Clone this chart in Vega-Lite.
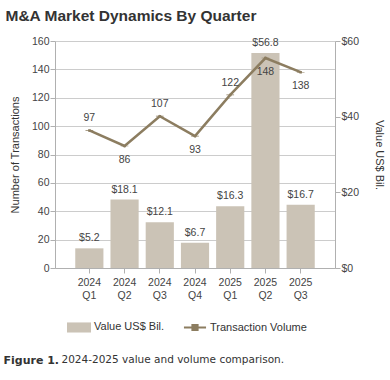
{
  "$schema": "https://vega.github.io/schema/vega-lite/v6.json",
  "padding": {"left": 3, "top": 8, "right": 7, "bottom": 5},
  "background": "white",
  "title": {"text": "M&A Market Dynamics By Quarter", "anchor": "start", "fontSize": 15.5, "font": "Liberation Sans", "fontWeight": "bold", "color": "#333333", "offset": 12, "dx": 2},
  "config": {
    "view": {"stroke": null},
    "font": "Liberation Sans",
    "axis": {"labelFont": "Liberation Sans", "labelFontSize": 10.5, "labelColor": "#444444", "titleFont": "Liberation Sans", "titleFontSize": 11, "titleFontWeight": "normal", "titleColor": "#333333", "domainColor": "#b0b0b0", "tickColor": "#b0b0b0", "gridColor": "#cccccc", "labelOverlap": false, "labelPadding": 1}
  },
  "datasets": {
    "quarters": [
      {"quarter": "2024 Q1", "value": 5.2, "transactions": 97},
      {"quarter": "2024 Q2", "value": 18.1, "transactions": 86},
      {"quarter": "2024 Q3", "value": 12.1, "transactions": 107},
      {"quarter": "2024 Q4", "value": 6.7, "transactions": 93},
      {"quarter": "2025 Q1", "value": 16.3, "transactions": 122},
      {"quarter": "2025 Q2", "value": 56.8, "transactions": 148},
      {"quarter": "2025 Q3", "value": 16.7, "transactions": 138}
    ]
  },
  "resolve": {"scale": {"color": "independent", "shape": "independent"}, "legend": {"color": "independent", "shape": "independent"}},
  "vconcat": [
    {
      "title": {"text": "2024-2025 value and volume comparison.", "orient": "bottom", "anchor": "start", "font": "DejaVu Sans", "fontSize": 10.5, "fontWeight": "normal", "color": "#333333", "dx": 58, "offset": -11},
      "resolve": {"scale": {"color": "independent", "shape": "independent"}, "legend": {"color": "independent", "shape": "independent"}},
      "vconcat": [
        {
          "title": {"text": "Figure 1.", "orient": "bottom", "anchor": "start", "font": "DejaVu Sans", "fontSize": 11, "fontWeight": "bold", "color": "#333333", "dx": -6, "offset": 10},
          "resolve": {"scale": {"color": "independent", "shape": "independent"}, "legend": {"color": "independent", "shape": "independent"}},
          "vconcat": [
            {
              "width": 280,
              "height": 227,
              "data": {"name": "quarters"},
              "encoding": {
                "x": {"field": "quarter", "type": "nominal", "sort": null,
                  "scale": {"paddingInner": 0.2, "paddingOuter": 0.575},
                  "axis": {"title": null, "labelAngle": 0, "labelExpr": "split(datum.label, ' ')", "labelLineHeight": 13, "labelPadding": 4, "tickSize": 5}}
              },
              "layer": [
                {
                  "encoding": {
                    "y": {"field": "value", "type": "quantitative", "scale": {"domain": [0, 60]},
                      "axis": {"orient": "right", "title": "Value US$ Bil.", "titleAngle": 90, "titlePadding": 15, "values": [0, 20, 40, 60], "labelExpr": "'$' + datum.value", "grid": false, "tickSize": 5, "labelOverlap": false}}
                  },
                  "layer": [
                    {
                      "mark": {"type": "bar"},
                      "encoding": {
                        "color": {"datum": "Value US$ Bil.", "type": "nominal",
                          "scale": {"domain": ["Value US$ Bil.", "Transaction Volume"], "range": ["#cbc3b6", "#8c7d60"]},
                          "legend": {"title": null, "orient": "bottom", "direction": "horizontal", "symbolSize": 576, "symbolStrokeWidth": 0, "labelFontSize": 11, "labelColor": "#333333", "labelOffset": 3, "columnPadding": 18, "padding": 12, "offset": 2}}
                      }
                    },
                    {
                      "mark": {"type": "text", "baseline": "middle", "dy": -10, "fontSize": 10.5, "color": "#444444"},
                      "encoding": {
                        "text": {"field": "value", "type": "quantitative", "format": "$.1f"}
                      }
                    }
                  ]
                },
                {
                  "encoding": {
                    "y": {"field": "transactions", "type": "quantitative", "scale": {"domain": [0, 160]},
                      "axis": {"orient": "left", "title": "Number of Transactions", "values": [0, 20, 40, 60, 80, 100, 120, 140, 160], "titlePadding": 11, "tickSize": 5, "grid": true, "labelOverlap": false}}
                  },
                  "layer": [
                    {
                      "mark": {"type": "line", "strokeWidth": 2.5},
                      "encoding": {
                        "color": {"datum": "Transaction Volume", "type": "nominal"}
                      }
                    },
                    {
                      "mark": {"type": "point", "filled": true, "opacity": 1, "size": 70},
                      "encoding": {
                        "color": {"datum": "Transaction Volume", "type": "nominal"},
                        "shape": {"datum": "Transaction Volume", "type": "nominal",
                          "scale": {"domain": ["Value US$ Bil.", "Transaction Volume"], "range": ["M-1,-0.42H1V0.42H-1Z", "M-0.92,-0.08H0.92V0.08H-0.92Z M-0.3,-0.3H0.3V0.3H-0.3Z"]}}
                      }
                    },
                    {
                      "transform": [{"filter": "datum.quarter == '2024 Q1' || datum.quarter == '2024 Q3' || datum.quarter == '2025 Q1'"}],
                      "mark": {"type": "text", "baseline": "middle", "dy": -12, "fontSize": 10.5, "color": "#444444"},
                      "encoding": {
                        "text": {"field": "transactions", "type": "quantitative"}
                      }
                    },
                    {
                      "transform": [{"filter": "datum.quarter != '2024 Q1' && datum.quarter != '2024 Q3' && datum.quarter != '2025 Q1'"}],
                      "mark": {"type": "text", "baseline": "middle", "dy": 14, "fontSize": 10.5, "color": "#444444"},
                      "encoding": {
                        "text": {"field": "transactions", "type": "quantitative"}
                      }
                    }
                  ]
                }
              ],
              "resolve": {"scale": {"y": "independent"}}
            }
          ]
        }
      ]
    }
  ]
}
